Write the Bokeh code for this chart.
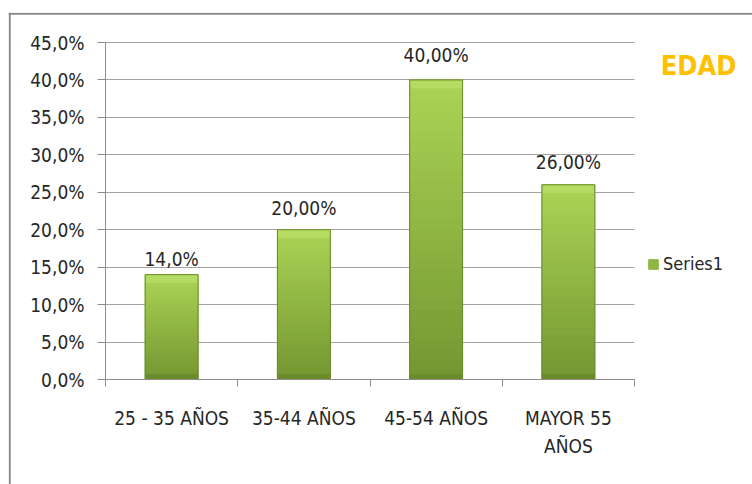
from bokeh.plotting import figure
from bokeh.models import (Range1d, FixedTicker, LinearAxis, Grid, Legend, LegendItem,
                          Label, Span, ColumnDataSource)
from bokeh.embed import file_html
from bokeh.resources import INLINE
from bokeh.core.properties import value
import numpy as np

# Age groups and their shares (percent)
categories = ["25 - 35 AÑOS", "35-44 AÑOS", "45-54 AÑOS", "MAYOR 55\nAÑOS"]
shares = [14.0, 20.0, 40.0, 26.0]
share_labels = ["14,0%", "20,00%", "40,00%", "26,00%"]
y_ticks = [0, 5, 10, 15, 20, 25, 30, 35, 40, 45]
y_tick_labels = ["0,0%", "5,0%", "10,0%", "15,0%", "20,0%", "25,0%",
                 "30,0%", "35,0%", "40,0%", "45,0%"]
series_name = "Series1"
chart_title = "EDAD"

FONT = "'DejaVu Sans Condensed', 'DejaVu Sans', sans-serif"
TEXT = "#262626"
GRAY = "#8c8c8c"

W, H = 752, 484
n = len(categories)
y_max = y_ticks[-1]

# pixel layout of the chart area and the plotting region inside it
AREA_L, AREA_T = 8, 12
PLOT_L, PLOT_R, PLOT_T, PLOT_B = 105, 634, 42, 379
sx = (PLOT_R - PLOT_L) / n
sy = (PLOT_B - PLOT_T) / y_max
x_start = -(PLOT_L - AREA_L) / sx
x_end = n + (W - PLOT_R) / sx
y_start = -(H - PLOT_B) / sy
y_end = y_max + (PLOT_T - AREA_T) / sy

centers = np.arange(n) + 0.5
bounds = np.arange(n + 1).astype(float)
half = 0.2

p = figure(width=W, height=H, x_range=Range1d(x_start, x_end),
           y_range=Range1d(y_start, y_end),
           output_backend="svg", toolbar_location=None,
           x_axis_type=None, y_axis_type=None,
           min_border_left=AREA_L, min_border_right=0,
           min_border_top=AREA_T, min_border_bottom=0)
p.outline_line_color = None
p.background_fill_color = "white"
p.border_fill_color = "white"

# y axis with Spanish-style percent labels
yaxis = LinearAxis(ticker=FixedTicker(ticks=y_ticks, minor_ticks=[]),
                   major_label_overrides=dict(zip(y_ticks, y_tick_labels)),
                   fixed_location=0, bounds=(0, y_max))
yaxis.axis_line_color = GRAY
yaxis.major_tick_line_color = GRAY
yaxis.major_tick_out = 8
yaxis.major_tick_in = 0
yaxis.minor_tick_line_color = None
yaxis.major_label_standoff = 13
yaxis.major_label_text_font = FONT
yaxis.major_label_text_font_size = "19px"
yaxis.major_label_text_color = TEXT
p.add_layout(yaxis, "left")

# x axis: labels at category centres, ticks at category boundaries
xaxis = LinearAxis(ticker=FixedTicker(ticks=list(centers), minor_ticks=list(bounds)),
                   major_label_overrides={float(c): lab for c, lab in zip(centers, categories)},
                   fixed_location=0, bounds=(0, n))
xaxis.axis_line_color = GRAY
xaxis.major_tick_line_color = None
xaxis.major_tick_out = 0
xaxis.major_tick_in = 0
xaxis.minor_tick_line_color = GRAY
xaxis.minor_tick_out = 7
xaxis.minor_tick_in = 0
xaxis.major_label_standoff = 20
xaxis.major_label_text_font = FONT
xaxis.major_label_text_font_size = "19px"
xaxis.major_label_text_color = TEXT
xaxis.major_label_text_line_height = 1.3
p.add_layout(xaxis, "below")

# horizontal gridlines across the plotting region only
if "cross_bounds" in Grid.properties():
    grid = Grid(dimension=1, ticker=yaxis.ticker, cross_bounds=(0, n))
    grid.grid_line_color = "#a3a3a3"
    p.add_layout(grid)
else:
    yaxis.level = "underlay"
    yaxis.major_tick_in = PLOT_R - PLOT_L

# bars: vertical shading from light top to darker bottom
steps = 30
top_rgb = np.array([0xab, 0xd4, 0x55])
bot_rgb = np.array([0x74, 0x96, 0x31])
rows = dict(left=[], right=[], bottom=[], top=[], color=[])
for c, v in zip(centers, shares):
    for k in range(steps):
        f = (k + 0.5) / steps
        rgb = bot_rgb + (top_rgb - bot_rgb) * f
        rows["left"].append(c - half)
        rows["right"].append(c + half)
        rows["bottom"].append(v * k / steps)
        rows["top"].append(v * (k + 1) / steps)
        rows["color"].append("#%02x%02x%02x" % tuple(int(round(x)) for x in rgb))
bars = p.quad(left="left", right="right", bottom="bottom", top="top",
              fill_color="color", line_color="color", line_width=1,
              source=ColumnDataSource(rows))

bar_src = ColumnDataSource(dict(left=centers - half, right=centers + half,
                                top=shares, bottom=[0] * n,
                                hl=np.array(shares) - 1.1, sh=[0.7] * n))
# top bevel highlight, bottom shade and edge
p.quad(left="left", right="right", bottom="hl", top="top", source=bar_src,
       fill_color="#bfe270", fill_alpha=0.55, line_color=None)
p.quad(left="left", right="right", bottom="bottom", top="sh", source=bar_src,
       fill_color="#5f7d26", fill_alpha=0.5, line_color=None)
p.quad(left="left", right="right", bottom="bottom", top="top", source=bar_src,
       fill_color=None, line_color="#6a8a2b", line_width=1)

# value labels above each bar
label_lift = [16, 22, 25, 23]
p.text(x=centers, y=shares, text=share_labels, y_offset=[-d for d in label_lift],
       text_align="center", text_baseline="alphabetic",
       text_font=value(FONT), text_font_size="19px", text_color=TEXT)

legend = Legend(items=[LegendItem(label=series_name, renderers=[bars], index=steps // 2)],
                location=(639, H - 274), orientation="vertical")
legend.border_line_color = None
legend.background_fill_alpha = 0
legend.padding = 0
legend.margin = 0
legend.glyph_width = 12
legend.glyph_height = 12
legend.label_standoff = 4
legend.label_text_font = FONT
legend.label_text_font_size = "18px"
legend.label_text_color = TEXT
p.add_layout(legend, "center")

p.add_layout(Label(x=698 - AREA_L, y=H - 65, x_units="screen", y_units="screen",
                   text=chart_title, text_align="center", text_baseline="middle",
                   text_font=FONT, text_font_size="27px", text_font_style="bold",
                   text_color="#ffc000"))

# chart area border (left and top edges)
p.add_layout(Span(location=x_start + 1.2 / sx, dimension="height",
                  line_color="#8a8a8a", line_width=2))
p.add_layout(Span(location=y_end - 1.2 / sy, dimension="width",
                  line_color="#8a8a8a", line_width=2))

open("out.html", "w").write(file_html(p, INLINE))
